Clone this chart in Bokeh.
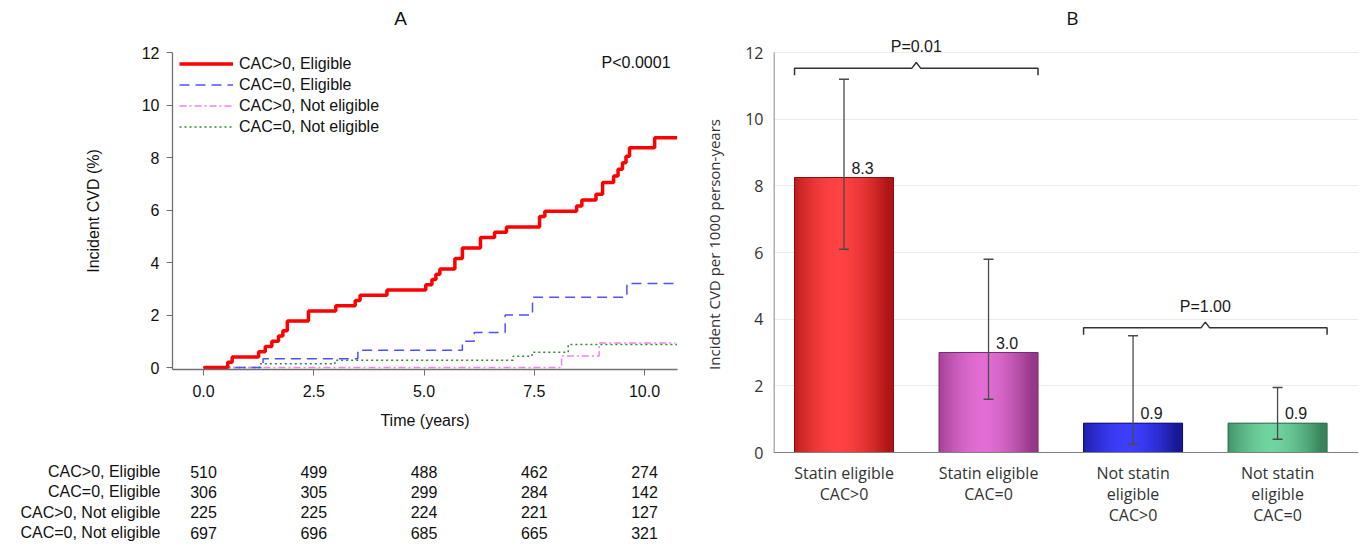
from bokeh.plotting import figure
from bokeh.layouts import row, column
from bokeh.models import Range1d, Legend, LegendItem, Label, FixedTicker, NumeralTickFormatter, Span
from bokeh.embed import file_html
from bokeh.resources import INLINE
from bokeh.core.properties import value

# ---------------- Panel A data (cumulative incidence, %) ----------------
red_t = [0, 0.55, 0.65, 1.25, 1.4, 1.55, 1.7, 1.8, 1.9, 2.38, 3.0, 3.44, 3.55, 4.16,
         5.04, 5.18, 5.27, 5.36, 5.7, 5.87, 6.28, 6.6, 6.87, 7.62, 7.74, 8.46, 8.58,
         8.9, 9.05, 9.3, 9.4, 9.5, 9.58, 9.66, 10.23, 10.74]
red_y = [0, 0.2, 0.4, 0.6, 0.8, 1.0, 1.2, 1.4, 1.77, 2.15, 2.35, 2.55, 2.75, 2.95,
         3.15, 3.35, 3.55, 3.75, 4.15, 4.55, 4.95, 5.15, 5.35, 5.75, 5.95, 6.15, 6.38,
         6.6, 7.05, 7.3, 7.55, 7.8, 8.05, 8.37, 8.75, 8.75]
blue_t = [0, 1.35, 3.5, 5.87, 6.14, 6.84, 7.46, 9.6, 10.77]
blue_y = [0, 0.33, 0.66, 1.0, 1.33, 2.0, 2.68, 3.2, 3.2]
pink_t = [0, 8.12, 8.97, 10.7]
pink_y = [0, 0.44, 0.93, 0.93]
green_t = [0, 1.27, 2.98, 7.02, 7.45, 8.27, 10.74]
green_y = [0, 0.14, 0.28, 0.43, 0.58, 0.88, 0.88]

series_labels = ["CAC>0, Eligible", "CAC=0, Eligible", "CAC>0, Not eligible", "CAC=0, Not eligible"]
time_ticks = [0, 2.5, 5, 7.5, 10]
risk_counts = [[510, 499, 488, 462, 274],
               [306, 305, 299, 284, 142],
               [225, 225, 224, 221, 127],
               [697, 696, 685, 665, 321]]
p_text_A = "P<0.0001"
panel_titles = ["A", "B"]

# ---------------- Panel B data ----------------
categories = ["Statin eligible\nCAC>0", "Statin eligible\nCAC=0",
              "Not statin\neligible\nCAC>0", "Not statin\neligible\nCAC=0"]
rates = [8.25, 3.0, 0.88, 0.88]
rate_labels = ["8.3", "3.0", "0.9", "0.9"]
ci_low = [6.1, 1.6, 0.25, 0.4]
ci_high = [11.2, 5.8, 3.5, 1.95]
p_pairs = [(0, 1), (2, 3)]
p_heights = [11.53, 3.74]
p_labels = ["P=0.01", "P=1.00"]

# ---------------- Styles ----------------
FA = "Liberation Sans"
FB = "Open Sans"
bar_center_col = [(255, 66, 66), (226, 110, 212), (62, 62, 255), (112, 212, 160)]
bar_edge_col = [(176, 22, 22), (150, 56, 136), (24, 24, 150), (56, 132, 92)]
bar_line_col = ["#8a1010", "#7a2a6e", "#10106e", "#2e6a4a"]


def bare(fig):
    fig.outline_line_color = None
    fig.grid.visible = False
    return fig


# ================= Panel A =================
xr_A = Range1d(-0.703, 10.748)

pAt = bare(figure(width=700, height=36, x_range=xr_A, y_range=Range1d(0, 1),
                  output_backend="svg", toolbar_location=None, x_axis_type=None, y_axis_type=None,
                  min_border_left=172, min_border_right=23, min_border_top=0, min_border_bottom=0))
pAt.text(x=[4.47], y=[0.5], text=[panel_titles[0]], text_align="center", text_baseline="middle",
         text_font=value(FA), text_font_size="19px", text_color="#111111")

pA = bare(figure(width=700, height=414, x_range=xr_A, y_range=Range1d(-0.076, 12),
                 output_backend="svg", toolbar_location=None,
                 min_border_left=172, min_border_right=23, min_border_top=16, min_border_bottom=81))

g = pA.step(green_t, green_y, mode="after", line_color="#2e8b2e", line_width=1.5, line_dash="2 3")
pk = pA.step(pink_t, pink_y, mode="after", line_color="#ee82ee", line_width=1.5, line_dash="7 3 2 3")
b = pA.step(blue_t, blue_y, mode="after", line_color="#5050ff", line_width=1.5, line_dash="10 6")
r = pA.step(red_t, red_y, mode="after", line_color="#ff0000", line_width=3.5)

legend = Legend(items=[LegendItem(label=series_labels[0], renderers=[r]),
                       LegendItem(label=series_labels[1], renderers=[b]),
                       LegendItem(label=series_labels[2], renderers=[pk]),
                       LegendItem(label=series_labels[3], renderers=[g])],
                location=(7, 232), padding=0, margin=0, spacing=0,
                glyph_width=54, glyph_height=21, label_height=21, label_standoff=6,
                label_text_font=FA, label_text_font_size="16px", label_text_color="#111111",
                background_fill_alpha=0, border_line_color=None)
pA.add_layout(legend)

pA.add_layout(Label(x=10.59, y=11.62, text=p_text_A, text_align="right", text_baseline="middle",
                    text_font=FA, text_font_size="16px", text_color="#111111"))

for ax in (pA.xaxis[0], pA.yaxis[0]):
    ax.axis_line_color = "#707070"
    ax.axis_line_width = 1.3
    ax.major_tick_line_color = "#707070"
    ax.major_tick_out = 6
    ax.major_tick_in = 0
    ax.minor_tick_line_color = None
    ax.major_label_text_font = FA
    ax.major_label_text_font_size = "16px"
    ax.major_label_text_color = "#111111"
    ax.axis_label_text_font = FA
    ax.axis_label_text_font_size = "16px"
    ax.axis_label_text_font_style = "normal"
    ax.axis_label_text_color = "#111111"

pA.xaxis.ticker = FixedTicker(ticks=time_ticks)
pA.xaxis.formatter = NumeralTickFormatter(format="0.0")
pA.xaxis.major_label_standoff = 9
pA.xaxis.axis_label = "Time (years)"
pA.xaxis.axis_label_standoff = 12
pA.yaxis.ticker = FixedTicker(ticks=[0, 2, 4, 6, 8, 10, 12])
pA.yaxis.major_label_standoff = 7
pA.yaxis.axis_label = "Incident CVD (%)"
pA.yaxis.axis_label_standoff = 37

# ---------------- Risk table (frame aligned with panel A) ----------------
pT = bare(figure(width=700, height=94, x_range=xr_A, y_range=Range1d(3.59, -1.033),
                 output_backend="svg", toolbar_location=None, x_axis_type=None,
                 min_border_left=172, min_border_right=23, min_border_top=0, min_border_bottom=0))
rows_idx = list(range(len(series_labels)))
pT.yaxis.ticker = FixedTicker(ticks=rows_idx)
pT.yaxis.major_label_overrides = {i: series_labels[i] for i in rows_idx}
pT.yaxis.axis_line_color = None
pT.yaxis.major_tick_line_color = None
pT.yaxis.minor_tick_line_color = None
pT.yaxis.major_tick_out = 0
pT.yaxis.major_tick_in = 0
pT.yaxis.major_label_standoff = 12
pT.yaxis.major_label_text_font = FA
pT.yaxis.major_label_text_font_size = "16px"
pT.yaxis.major_label_text_color = "#111111"
tx, ty, tt = [], [], []
for i, counts in enumerate(risk_counts):
    for t, c in zip(time_ticks, counts):
        tx.append(t)
        ty.append(i)
        tt.append(str(c))
pT.text(x=tx, y=ty, text=tt, text_align="center", text_baseline="middle",
        text_font=value(FA), text_font_size="16px", text_color="#111111")

# ================= Panel B =================
xr_B = Range1d(-0.488, 3.56)

pBt = bare(figure(width=662, height=35, x_range=xr_B, y_range=Range1d(0, 1),
                  output_backend="svg", toolbar_location=None, x_axis_type=None, y_axis_type=None,
                  min_border_left=73, min_border_right=4, min_border_top=0, min_border_bottom=0))
pBt.text(x=[1.58], y=[0.49], text=[panel_titles[1]], text_align="center", text_baseline="middle",
         text_font=value(FB), text_font_size="19px", text_color="#111111")

pB = bare(figure(width=662, height=427, x_range=xr_B, y_range=Range1d(-0.03, 12.51),
                 output_backend="svg", toolbar_location=None, x_axis_type=None,
                 min_border_left=73, min_border_right=4, min_border_top=0, min_border_bottom=9))
pB.ygrid.visible = True
pB.ygrid.ticker = FixedTicker(ticks=[2, 4, 6, 8, 10, 12])
pB.ygrid.grid_line_color = "#ebebeb"

bar_w = 0.685
N = 48
idx = list(range(len(rates)))
# base bar with edge colour, then overlapping gradient slices
pB.vbar(x=idx, width=bar_w, top=rates, bottom=0,
        fill_color=["#%02x%02x%02x" % c for c in bar_edge_col], line_color=None)
sx, sw, st, sc = [], [], [], []
for i, v in enumerate(rates):
    for k in range(N):
        rpos = (k + 0.5) / N * 2 - 1
        f = min(1.0, abs(rpos + 0.1) ** 1.7)
        col = tuple(int(round(bar_center_col[i][j] * (1 - f) + bar_edge_col[i][j] * f)) for j in range(3))
        sx.append(i - bar_w / 2 + (k + 0.5) * bar_w / N)
        sw.append(bar_w / N * 1.9 if 0 < k < N - 1 else bar_w / N)
        st.append(v)
        sc.append("#%02x%02x%02x" % col)
pB.vbar(x=sx, width=sw, top=st, bottom=0, fill_color=sc, line_color=None)
pB.vbar(x=idx, width=bar_w, top=rates, bottom=0, fill_color=None, line_color=bar_line_col, line_width=1)

# error bars
pB.segment(x0=idx, y0=ci_low, x1=idx, y1=ci_high, line_color="#4a4a4a", line_width=1.3)
pB.scatter(x=idx + idx, y=ci_low + ci_high, marker="dash", size=10, line_color="#4a4a4a", line_width=1.5)

# value labels
pB.text(x=[i + 0.128 for i in idx], y=rates, text=rate_labels, text_align="center",
        text_baseline="bottom", y_offset=-4, text_font=value(FA), text_font_size="16px",
        text_color="#1a1a1a")

# significance brackets
bxs, bys = [], []
for (a, c), h in zip(p_pairs, p_heights):
    xl, xr, xm = a - bar_w / 2, c + bar_w / 2, (a + c) / 2
    bxs.append([xl, xl, xm - 0.03, xm, xm + 0.03, xr, xr])
    bys.append([h - 0.21, h, h, h + 0.17, h, h, h - 0.21])
pB.multi_line(xs=bxs, ys=bys, line_color="#333333", line_width=1.5)
pB.text(x=[(a + c) / 2 for a, c in p_pairs], y=[h + 0.65 for h in p_heights], text=p_labels,
        text_align="center", text_baseline="middle", text_font=value(FA), text_font_size="16px",
        text_color="#1a1a1a")

# axis lines: x axis at 0, y axis only from 0 to 12
pB.add_layout(Span(location=0, dimension="width", line_color="#808080", line_width=1.2))
pB.segment(x0=[-0.4845], y0=[0], x1=[-0.4845], y1=[12], line_color="#808080", line_width=1.2)

pB.yaxis.axis_line_color = None
pB.yaxis.ticker = FixedTicker(ticks=[0, 2, 4, 6, 8, 10, 12])
pB.yaxis.major_tick_line_color = None
pB.yaxis.minor_tick_line_color = None
pB.yaxis.major_tick_out = 0
pB.yaxis.major_tick_in = 0
pB.yaxis.major_label_text_font = FB
pB.yaxis.major_label_text_font_size = "16px"
pB.yaxis.major_label_text_color = "#333333"
pB.yaxis.major_label_standoff = 10
pB.yaxis.axis_label = "Incident CVD per 1000 person-years"
pB.yaxis.axis_label_text_font = FB
pB.yaxis.axis_label_text_font_size = "15px"
pB.yaxis.axis_label_text_font_style = "normal"
pB.yaxis.axis_label_text_color = "#333333"
pB.yaxis.axis_label_standoff = 18

# ---------------- Category labels below panel B ----------------
pBl = bare(figure(width=662, height=82, x_range=xr_B, y_range=Range1d(0, 1),
                  output_backend="svg", toolbar_location=None, x_axis_type=None, y_axis_type=None,
                  min_border_left=73, min_border_right=4, min_border_top=0, min_border_bottom=0))
pBl.text(x=idx, y=[1] * len(idx), text=categories, text_align="center", text_baseline="top",
         y_offset=-1, text_line_height=0.97, text_font=value(FB), text_font_size="16px",
         text_color="#333333")

layout = row(column(pAt, pA, pT), column(pBt, pB, pBl))
open("out.html", "w").write(file_html(layout, INLINE))
